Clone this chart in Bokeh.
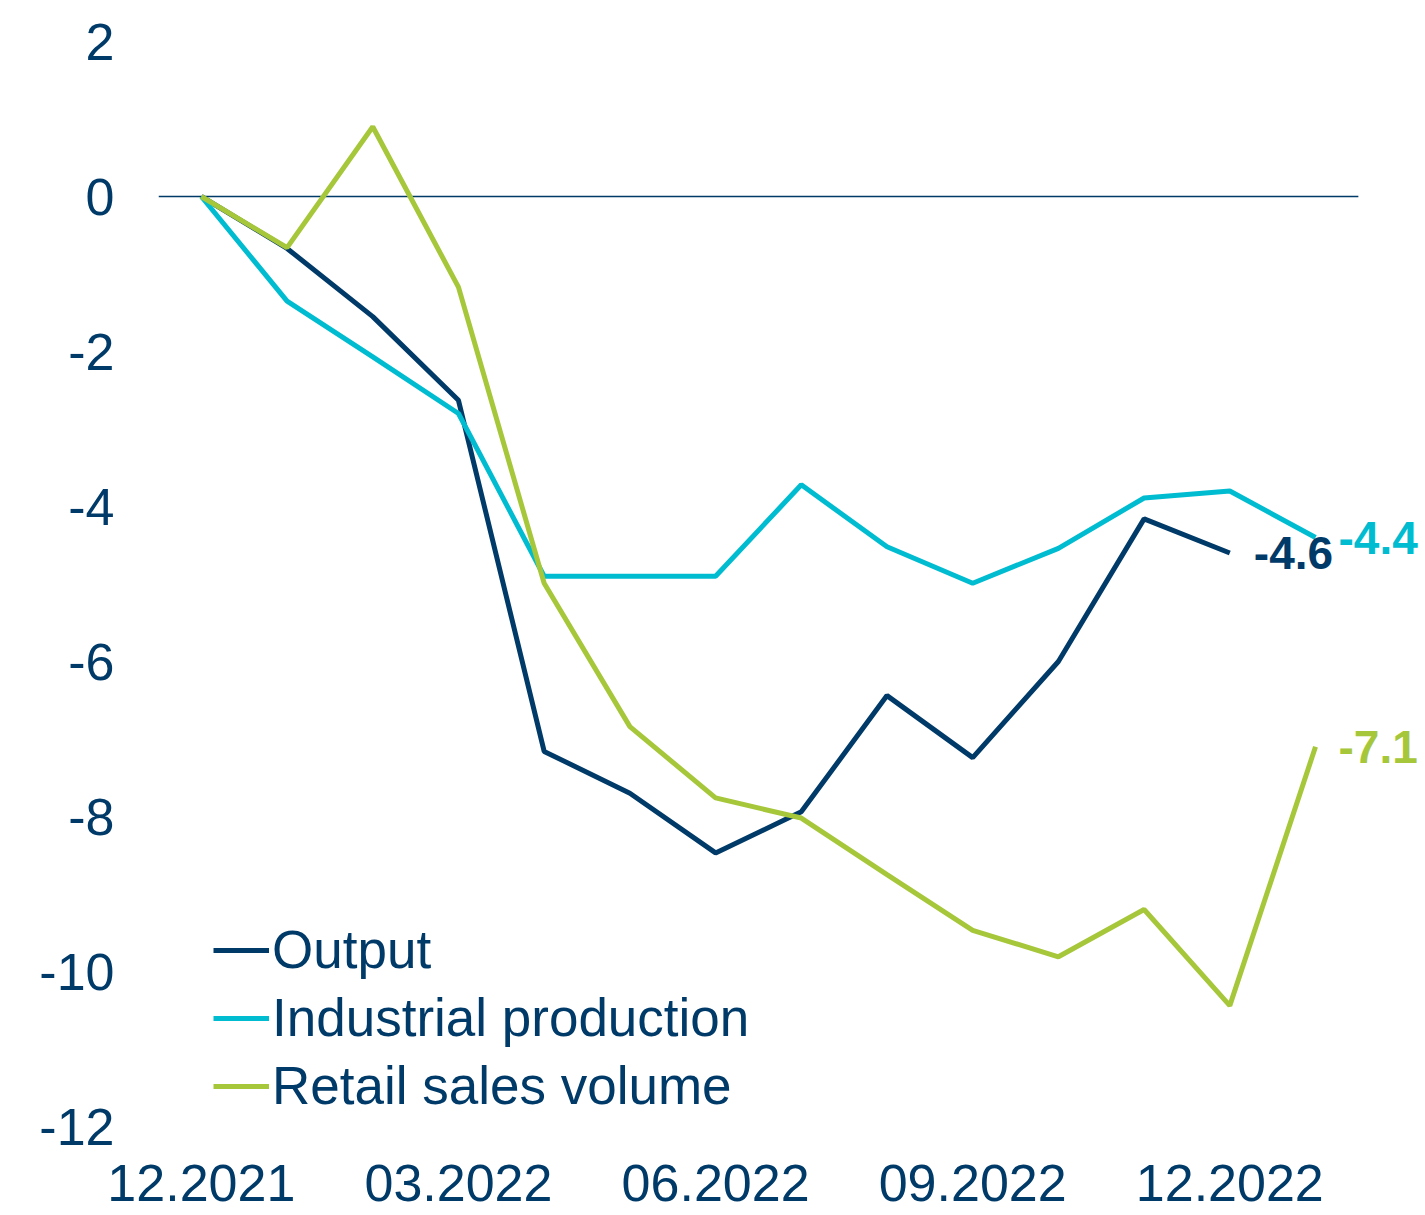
import math
from bokeh.plotting import figure
from bokeh.models import (ColumnDataSource, Legend, LegendItem, Label,
                          FixedTicker, Range1d)
from bokeh.embed import file_html
from bokeh.resources import INLINE

# ---- data ----
months = ["12.2021", "01.2022", "02.2022", "03.2022", "04.2022", "05.2022",
          "06.2022", "07.2022", "08.2022", "09.2022", "10.2022", "11.2022",
          "12.2022", "01.2023"]
output = [0, -0.67, -1.55, -2.63, -7.16, -7.7, -8.47, -7.94, -6.44, -7.24,
          -6.0, -4.16, -4.6, float("nan")]
industrial = [0, -1.35, -2.07, -2.8, -4.9, -4.9, -4.9, -3.72, -4.52, -4.99,
              -4.54, -3.89, -3.8, -4.4]
retail = [0, -0.66, 0.9, -1.17, -4.99, -6.84, -7.76, -8.02, -8.75, -9.47,
          -9.81, -9.2, -10.44, -7.1]
tick_months = ["12.2021", "03.2022", "06.2022", "09.2022", "12.2022"]
y_ticks = [2, 0, -2, -4, -6, -8, -10, -12]

NAVY = "#003a68"
CYAN = "#00bcd1"
GREEN = "#a6c73a"
TEXT = "#003a68"
FONT = "Liberation Sans"

idx = list(range(len(months)))
src = ColumnDataSource(dict(x=idx, output=output, industrial=industrial, retail=retail))

x_start = -0.5
x_end = len(months) - 1 + 1.225

p = figure(frame_width=1262, frame_height=1085,
           x_range=Range1d(x_start, x_end), y_range=Range1d(min(y_ticks), max(y_ticks)),
           output_backend="svg", toolbar_location=None,
           min_border_left=158, min_border_right=0, min_border_top=41,
           min_border_bottom=84)
p.outline_line_color = None
p.grid.visible = False
p.background_fill_color = "white"

for ax in (p.xaxis[0], p.yaxis[0]):
    ax.axis_line_color = None
    ax.major_tick_line_color = None
    ax.minor_tick_line_color = None
    ax.major_label_text_font = FONT
    ax.major_label_text_font_size = "52px"
    ax.major_label_text_color = TEXT

p.yaxis[0].ticker = FixedTicker(ticks=y_ticks)
p.yaxis[0].major_label_overrides = {v: str(v) for v in y_ticks}
p.yaxis[0].major_label_standoff = 38
p.xaxis[0].ticker = FixedTicker(ticks=[months.index(m) for m in tick_months])
p.xaxis[0].major_label_overrides = {months.index(m): m for m in tick_months}
p.xaxis[0].major_label_standoff = 32

# zero line spanning the months (half a month either side)
p.segment(x0=[-0.5], y0=[0], x1=[len(months) - 0.5], y1=[0],
          line_color=NAVY, line_width=1.5)

r_out = p.line("x", "output", source=src, line_color=NAVY, line_width=5)
r_ind = p.line("x", "industrial", source=src, line_color=CYAN, line_width=5)
r_ret = p.line("x", "retail", source=src, line_color=GREEN, line_width=5)

legend = Legend(items=[LegendItem(label="Output", renderers=[r_out]),
                       LegendItem(label="Industrial production", renderers=[r_ind]),
                       LegendItem(label="Retail sales volume", renderers=[r_ret])],
                location=(55, 10))
legend.label_text_font = FONT
legend.label_text_font_size = "53px"
legend.label_text_color = TEXT
legend.glyph_width = 56
legend.glyph_height = 20
legend.label_standoff = 3
legend.spacing = 7
legend.padding = 0
legend.margin = 0
legend.border_line_color = None
legend.background_fill_alpha = 0
p.add_layout(legend, "center")

# end labels
end_specs = [(12, output[12], NAVY, 24), (13, industrial[13], CYAN, 23), (13, retail[13], GREEN, 23)]
for xi, yv, col, off in end_specs:
    p.add_layout(Label(x=xi, y=yv, x_offset=off, text=f"{yv:.1f}",
                       text_font=FONT, text_font_size="46px", text_font_style="bold",
                       text_color=col, text_baseline="middle", text_align="left"))

open("out.html", "w").write(file_html(p, INLINE))
